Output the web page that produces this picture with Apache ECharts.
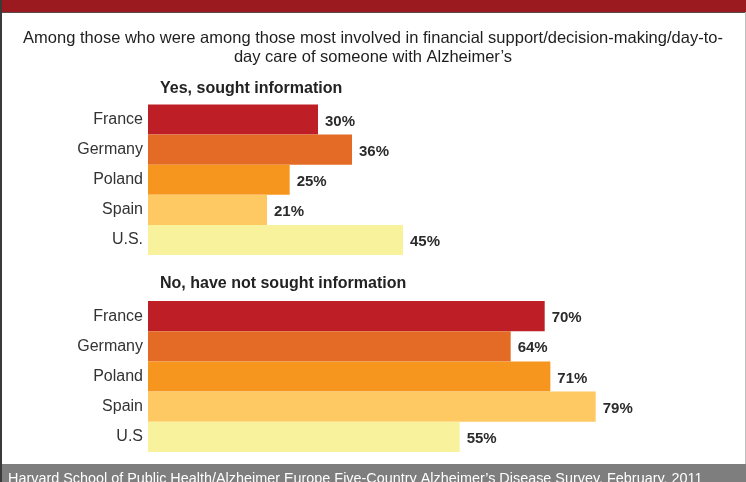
<!DOCTYPE html>
<html>
<head>
<meta charset="utf-8">
<style>
  html, body { margin: 0; padding: 0; background: #fff; }
  #chart { width: 746px; height: 482px; }
</style>
<script src="https://cdn.jsdelivr.net/npm/echarts@6/dist/echarts.min.js"></script>
</head>
<body>
<div id="chart"></div>
<script>
// Countries, shared by both panels
const countriesYes = ['France', 'Germany', 'Poland', 'Spain', 'U.S.'];
const countriesNo = ['France', 'Germany', 'Poland', 'Spain', 'U.S'];
// Share of caregivers (%) who sought / did not seek information
const soughtYes = [30, 36, 25, 21, 45];
const soughtNo = [70, 64, 71, 79, 55];
const countryColors = ['#be1e25', '#e46b26', '#f7961f', '#fec863', '#f7f29b'];

const FONT = '"Liberation Sans", Arial, sans-serif';

function barData(values) {
  return values.map((v, i) => ({ value: v, itemStyle: { color: countryColors[i] } }));
}

const labelStyle = {
  show: true,
  position: 'right',
  distance: 7,
  formatter: '{c}%',
  fontFamily: FONT,
  fontWeight: 'bold',
  fontSize: 15,
  color: '#2b2b2b',
  offset: [0, 2]
};

const chart = echarts.init(document.getElementById('chart'));
chart.setOption({
  animation: false,
  title: [
    {
      text: 'Among those who were among those most involved in financial support/decision-making/day-to-\nday care of someone with Alzheimer\u2019s',
      left: 'center', top: 24,
      textStyle: { fontFamily: FONT, fontSize: 16.5, fontWeight: 'normal', color: '#1e1e1e', lineHeight: 19, align: 'center' }
    },
    {
      text: 'Yes, sought information', left: 155, top: 76,
      textStyle: { fontFamily: FONT, fontSize: 16, fontWeight: 'bold', color: '#222' }
    },
    {
      text: 'No, have not sought information', left: 155, top: 271,
      textStyle: { fontFamily: FONT, fontSize: 16, fontWeight: 'bold', color: '#222' }
    }
  ],
  grid: [
    { left: 148, width: 566.7, top: 104.5, height: 150.5 },
    { left: 148, width: 566.7, top: 301, height: 151 }
  ],
  xAxis: [
    { gridIndex: 0, type: 'value', min: 0, max: 100, show: false },
    { gridIndex: 1, type: 'value', min: 0, max: 100, show: false }
  ],
  yAxis: [0, 1].map(g => ({
    gridIndex: g,
    type: 'category',
    inverse: true,
    data: g === 0 ? countriesYes : countriesNo,
    axisLine: { show: false },
    axisTick: { show: false },
    splitLine: { show: false },
    axisLabel: { margin: 5, fontFamily: FONT, fontSize: 16, color: '#333' }
  })),
  series: [
    {
      type: 'bar', xAxisIndex: 0, yAxisIndex: 0,
      data: barData(soughtYes), barCategoryGap: '0%', label: labelStyle
    },
    {
      type: 'bar', xAxisIndex: 1, yAxisIndex: 1,
      data: barData(soughtNo), barCategoryGap: '0%', label: labelStyle
    }
  ],
  graphic: [
    // header band
    { type: 'rect', shape: { x: 0, y: 0, width: 746, height: 12 }, style: { fill: '#9a1a1f' }, z: 10 },
    { type: 'rect', shape: { x: 0, y: 12, width: 746, height: 1 }, style: { fill: '#5a4a4a' }, z: 10 },
    // frame edges
    { type: 'rect', shape: { x: 0, y: 0, width: 2, height: 482 }, style: { fill: '#3a3a3a' }, z: 11 },
    { type: 'rect', shape: { x: 745, y: 12, width: 1, height: 452 }, style: { fill: '#bdbdbd' }, z: 11 },
    // footer band
    { type: 'rect', shape: { x: 0, y: 464, width: 746, height: 18 }, style: { fill: '#7e7e7f' }, z: 10 },
    {
      type: 'text', x: 8, y: 472, z: 12,
      style: {
        text: 'Harvard School of Public Health/Alzheimer Europe Five-Country Alzheimer\u2019s Disease Survey, February, 2011',
        fill: '#ffffff', font: '14.4px ' + FONT
      }
    }
  ]
});
</script>
</body>
</html>
